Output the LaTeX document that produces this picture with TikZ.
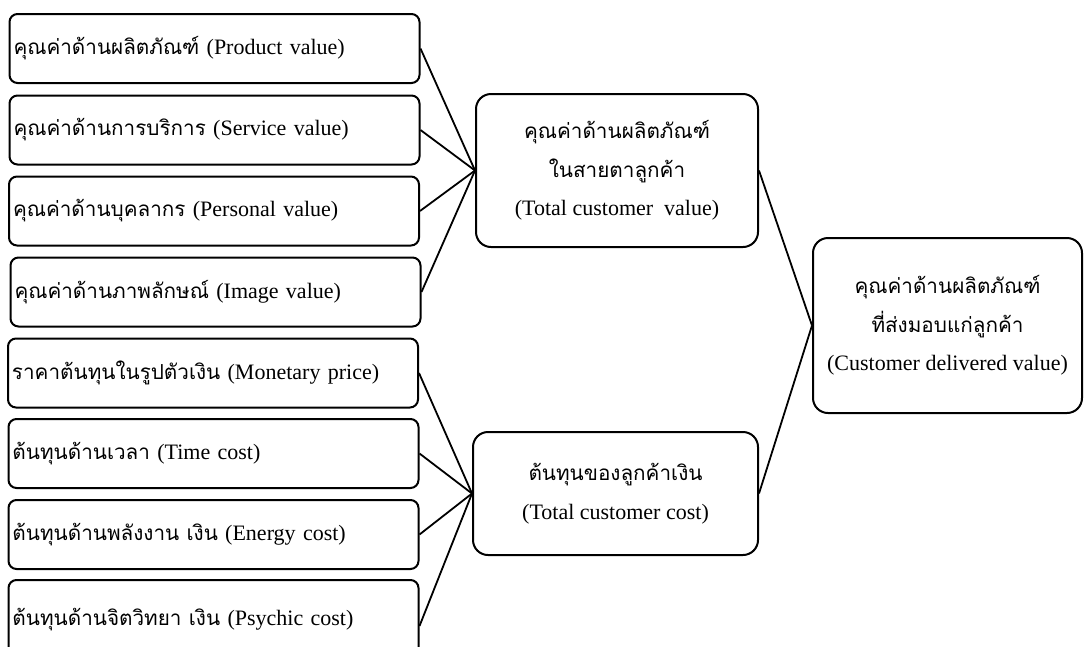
\documentclass[tikz,border=0pt]{standalone}
\usepackage{fontspec}
\setmainfont{Liberation Serif}
\newfontfamily\thai[Script=Thai,Scale=0.94]{Loma}
\begin{document}
\begin{tikzpicture}[x=1pt,y=-1pt,
  every node/.style={font=\fontsize{22}{38.5}\selectfont},
  itembox/.style={draw,line width=2pt,rounded corners=8pt,
    minimum width=410pt,minimum height=69pt,text width=402pt,
    inner xsep=3pt,align=left},
  sumbox/.style={draw,line width=2pt,rounded corners=15pt,align=center},
  link/.style={line width=1.8pt}]
\useasboundingbox (0,0) rectangle (1084,646);

% value components
\node[itembox] (pv) at (214.5,48.5) {{\thai คุณค่าด้านผลิตภัณฑ์} (Product value)};
\node[itembox] (sv) at (214.5,130)  {{\thai คุณค่าด้านการบริการ} (Service value)};
\node[itembox] (ev) at (214,211)    {{\thai คุณค่าด้านบุคลากร} (Personal value)};
\node[itembox] (iv) at (215.5,292)  {{\thai คุณค่าด้านภาพลักษณ์} (Image value)};

% cost components
\node[itembox] (mp) at (213,373)    {{\thai ราคาต้นทุนในรูปตัวเงิน} (Monetary price)};
\node[itembox] (tc) at (213.5,453.5){{\thai ต้นทุนด้านเวลา} (Time cost)};
\node[itembox] (ec) at (213.5,534.5){{\thai ต้นทุนด้านพลังงาน เงิน} (Energy cost)};
\node[itembox,minimum height=80pt] (pc) at (213.5,620){{\thai ต้นทุนด้านจิตวิทยา เงิน} (Psychic cost)};

% totals
\node[sumbox,minimum width=282pt,minimum height=153pt] (tv) at (617,170.5)
  {{\thai คุณค่าด้านผลิตภัณฑ์}\\{\thai ในสายตาลูกค้า}\\(Total customer~ value)};
\node[sumbox,minimum width=285pt,minimum height=123pt] (tcost) at (615.5,493.5)
  {{\thai ต้นทุนของลูกค้าเงิน}\\(Total customer cost)};
\node[sumbox,minimum width=269pt,minimum height=175pt] (dv) at (947.5,325.5)
  {{\thai คุณค่าด้านผลิตภัณฑ์}\\{\thai ที่ส่งมอบแก่ลูกค้า}\\(Customer delivered value)};

% connectors
\foreach \n in {pv,sv,ev,iv} \draw[link] (\n.east) -- (tv.west);
\foreach \n in {mp,tc,ec} \draw[link] (\n.east) -- (tcost.west);
\draw[link] ([yshift=-6pt]pc.east) -- (tcost.west);
\draw[link] (tv.east) -- (dv.west);
\draw[link] (tcost.east) -- (dv.west);
\end{tikzpicture}
\end{document}
